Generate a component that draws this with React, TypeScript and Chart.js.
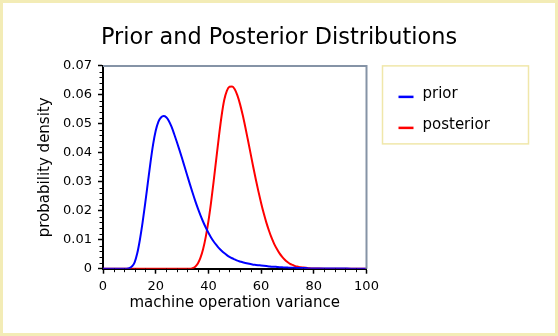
import React, { useEffect, useRef } from 'react';
import { Chart, registerables } from 'chart.js';

Chart.register(...registerables);

const chartTitle = 'Prior and Posterior Distributions';
const xAxisTitle = 'machine operation variance';
const yAxisTitle = 'probability density';
const seriesNames = ['prior', 'posterior'];
const seriesColors = ['#0000ff', '#ff0000'];

const xTickLabels = ['0', '20', '40', '60', '80', '100'];
const yTickLabels = ['0', '0.01', '0.02', '0.03', '0.04', '0.05', '0.06', '0.07'];

// x grid (variance)
const xValues = [
  0, 4, 8, 9, 10, 11, 12, 13, 14, 15, 16, 17, 18, 19, 20, 21, 22, 23, 24, 25, 26, 27, 28, 29,
  30, 31, 32, 33, 34, 35, 36, 37, 38, 39, 40, 41, 42, 43, 44, 45, 46, 47, 48, 49,
  50, 51, 52, 53, 54, 55, 56, 57, 58, 59, 60, 61, 62, 63, 64, 65, 66, 67, 68, 69,
  70, 71, 72, 73, 74, 75, 76, 77, 78, 79, 80, 84, 88, 92, 96, 100,
];

const priorValues = [
  0, 0, 0, 0, 0.0002, 0.0008, 0.0022, 0.0053, 0.01, 0.0158, 0.0225, 0.0295, 0.0365, 0.0428, 0.0476, 0.0507, 0.0522, 0.0527, 0.0523, 0.051, 0.049, 0.0465, 0.0438, 0.041,
  0.0381, 0.0351, 0.0321, 0.0291, 0.0262, 0.0234, 0.0208, 0.0184, 0.0162, 0.0142, 0.0124, 0.0108, 0.0094, 0.0082, 0.0071, 0.0062, 0.0054, 0.0047, 0.0041, 0.0036,
  0.0032, 0.0028, 0.0025, 0.0022, 0.002, 0.0018, 0.0016, 0.0014, 0.0013, 0.0012, 0.0011, 0.001, 0.0009, 0.0008, 0.0007, 0.0007, 0.0006, 0.0005, 0.0005, 0.0004,
  0.0004, 0.0003, 0.0003, 0.0003, 0.0002, 0.0002, 0.0002, 0.0002, 0.0001, 0.0001, 0.0001, 0.0001, 0.00005, 0.00003, 0.00002, 0.00001,
];

const posteriorValues = [
  0, 0, 0, 0, 0, 0, 0, 0, 0, 0, 0, 0, 0, 0, 0, 0, 0, 0, 0, 0, 0, 0, 0, 0,
  0, 0, 0, 0, 0.0002, 0.0007, 0.0018, 0.0038, 0.0068, 0.011, 0.0163, 0.0228, 0.0302, 0.038, 0.0457, 0.0527, 0.0582, 0.0614, 0.0628, 0.0629,
  0.0619, 0.0598, 0.0568, 0.0531, 0.0489, 0.0444, 0.0398, 0.0352, 0.0308, 0.0266, 0.0227, 0.0191, 0.0159, 0.0131, 0.0106, 0.0085, 0.0068, 0.0053, 0.0041, 0.0031,
  0.0023, 0.0017, 0.0013, 0.0009, 0.0007, 0.0005, 0.0004, 0.0003, 0.0002, 0.0001, 0.0001, 0, 0, 0, 0, 0,
];

const FONT = "'DejaVu Sans', Verdana, sans-serif";

const framePlugin = {
  id: 'frame',
  beforeDraw(chart: any) {
    const { ctx, width, height } = chart;
    ctx.save();
    ctx.fillStyle = '#ffffff';
    ctx.fillRect(0, 0, width, height);
    ctx.strokeStyle = '#f3ecb6';
    ctx.lineWidth = 3;
    ctx.strokeRect(1.5, 1.5, width - 3, height - 3);
    ctx.restore();
  },
  afterDraw(chart: any) {
    const { ctx, chartArea } = chart;
    const { left, right, top, bottom } = chartArea;
    const xs = chart.scales.x;
    const ys = chart.scales.y;
    ctx.save();
    // top & right border
    ctx.strokeStyle = '#8593a6';
    ctx.lineWidth = 2;
    ctx.beginPath();
    ctx.moveTo(left, top);
    ctx.lineTo(right, top);
    ctx.lineTo(right, bottom);
    ctx.stroke();
    // minor ticks
    ctx.strokeStyle = '#000';
    ctx.lineWidth = 1;
    ctx.beginPath();
    for (let v = 0; v <= 100; v += 4) {
      if (v % 20 === 0) continue;
      const px = Math.round(xs.getPixelForValue(v)) + 0.5;
      ctx.moveTo(px, bottom);
      ctx.lineTo(px, bottom + 3.5);
    }
    for (let i = 0; i <= 35; i++) {
      if (i % 5 === 0) continue;
      const py = Math.round(ys.getPixelForValue(i * 0.002)) + 0.5;
      ctx.moveTo(left, py);
      ctx.lineTo(left - 3.5, py);
    }
    ctx.stroke();
    // legend
    const bx = right + 16;
    const by = top;
    const bw = 146;
    const bh = 78;
    ctx.strokeStyle = '#f0e7aa';
    ctx.lineWidth = 1.5;
    ctx.strokeRect(bx, by, bw, bh);
    chart.data.datasets.forEach((ds: any, i: number) => {
      const ly = by + 31 + i * 31;
      ctx.strokeStyle = ds.borderColor;
      ctx.lineWidth = 2.5;
      ctx.beginPath();
      ctx.moveTo(bx + 16, ly);
      ctx.lineTo(bx + 31, ly);
      ctx.stroke();
      ctx.fillStyle = '#000';
      ctx.font = `15px ${FONT}`;
      ctx.textBaseline = 'alphabetic';
      ctx.textAlign = 'left';
      ctx.fillText(ds.label, bx + 40, ly + 1);
    });
    ctx.restore();
  },
};

export default function App() {
  const ref = useRef<HTMLCanvasElement>(null);
  useEffect(() => {
    document.body.style.margin = '0';
    const canvas = ref.current;
    if (!canvas) return;
    const chart = new Chart(canvas, {
      type: 'line',
      data: {
        datasets: [
          {
            label: seriesNames[0],
            data: xValues.map((x, i) => ({ x, y: priorValues[i] })),
            borderColor: seriesColors[0],
            borderWidth: 2,
            pointRadius: 0,
            fill: false,
            cubicInterpolationMode: 'monotone',
          },
          {
            label: seriesNames[1],
            data: xValues.map((x, i) => ({ x, y: posteriorValues[i] })),
            borderColor: seriesColors[1],
            borderWidth: 2,
            pointRadius: 0,
            fill: false,
            cubicInterpolationMode: 'monotone',
          },
        ],
      },
      options: {
        responsive: false,
        animation: false,
        layout: { padding: 0 },
        plugins: {
          legend: { display: false },
          tooltip: { enabled: false },
          title: {
            display: true,
            text: chartTitle,
            color: '#000',
            font: { family: FONT, size: 22.4, weight: 'normal' },
            padding: { top: 25, bottom: 14 },
          },
        },
        scales: {
          x: {
            type: 'linear',
            min: 0,
            max: 100,
            ticks: {
              stepSize: 20,
              color: '#000',
              font: { family: FONT, size: 13 },
              padding: 5,
              maxRotation: 0,
              callback: (v: any) => xTickLabels[Math.round(Number(v) / 20)] ?? '',
            },
            grid: { drawOnChartArea: false, drawTicks: true, tickLength: 5, tickColor: '#000', tickWidth: 1.5 },
            border: { display: true, color: '#000', width: 2 },
            title: {
              display: true,
              text: xAxisTitle,
              color: '#000',
              font: { family: FONT, size: 15 },
              padding: { top: 0, bottom: 24 },
            },
            afterFit: (s: any) => { s.height = 67.3; },
          },
          y: {
            type: 'linear',
            min: 0,
            max: 0.07,
            ticks: {
              stepSize: 0.01,
              color: '#000',
              font: { family: FONT, size: 13 },
              padding: 6,
              callback: (v: any) => yTickLabels[Math.round(Number(v) / 0.01)] ?? '',
            },
            grid: { drawOnChartArea: false, drawTicks: true, tickLength: 5, tickColor: '#000', tickWidth: 1.5 },
            border: { display: true, color: '#000', width: 2 },
            title: {
              display: true,
              text: yAxisTitle,
              color: '#000',
              font: { family: FONT, size: 15 },
              padding: { top: 36, bottom: 0 },
            },
            afterFit: (s: any) => { s.width = 103; },
          },
          yRight: {
            type: 'linear',
            position: 'right',
            display: true,
            grid: { display: false },
            ticks: { display: false },
            border: { display: false },
            afterFit: (s: any) => { s.width = 191.5; },
          },
        },
      },
      plugins: [framePlugin],
    } as any);
    return () => chart.destroy();
  }, []);
  return <canvas ref={ref} width={558} height={336} style={{ display: 'block', width: 558, height: 336 }} />;
}
